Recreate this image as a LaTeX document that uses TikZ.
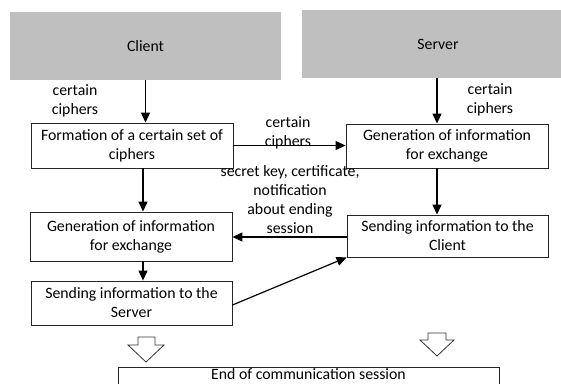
\documentclass[tikz,border=0pt]{standalone}
\usepackage{fontspec}
\setmainfont{Carlito}
\usetikzlibrary{arrows.meta}
\begin{document}
\begin{tikzpicture}[x=1pt,y=-1pt,
  every node/.style={font=\fontsize{15.8pt}{19pt}\selectfont, text=black},
  graybox/.style={fill=black!25, draw=none, inner sep=0pt},
  procbox/.style={draw=black!85, line width=0.9pt, align=center, inner sep=0pt},
  lbl/.style={align=center, inner sep=0pt},
  arr/.style={draw=black, line width=1.2pt, -{Triangle[length=10pt,width=9pt]}},
  hollow/.style={draw=black!80, line width=0.8pt, fill=white}
]
\useasboundingbox (0,0) rectangle (561,383);

% header boxes
\node[graybox, minimum width=271pt, minimum height=68pt] (client) at (145.5,46) {Client};
\node[graybox, minimum width=259pt, minimum height=68pt] (server) at (431.5,44) {\hspace*{13pt}Server};

% process boxes
\node[procbox, minimum width=202pt, minimum height=45pt] (form) at (132,145.5) {Formation of a certain set of\\ciphers};
\node[procbox, minimum width=202pt, minimum height=44pt] (sgen) at (447,146) {Generation of information\\for exchange};
\node[procbox, minimum width=202pt, minimum height=49pt] (lgen) at (131,236.5) {Generation of information\\for exchange};
\node[procbox, minimum width=201pt, minimum height=42pt] (ssend) at (447.5,236) {Sending information to the\\Client};
\node[procbox, minimum width=201pt, minimum height=44pt] (lsend) at (131.5,303) {Sending information to the\\Server};

% end box (cut by the lower edge)
\node[lbl] (endbox) at (308.5,374.5) {End of communication session};
\draw[draw=black!85, line width=0.9pt] (118,384) -- (118,367) -- (499,367) -- (499,384);

% labels
\node[lbl] (l1) at (75,101) {certain\\ciphers};
\node[lbl] (l2) at (490,100) {certain\\ciphers};
\node[lbl] (l3) at (288,132.5) {certain\\ciphers};
\node[lbl] (l4) at (290,200) {secret key, certificate,\\notification\\about ending\\session};

% connectors
\draw[arr] (client.south) -- (client.south |- form.north);
\draw[arr] ([xshift=5.5pt]server.south) -- ([xshift=-10pt]sgen.north);
\draw[arr] (form.east) -- (form.east -| sgen.west);
\draw[arr] ([xshift=11pt]form.south) -- ([xshift=12pt]lgen.north);
\draw[arr] ([xshift=-10pt]sgen.south) -- ([xshift=-10.5pt]ssend.north);
\draw[arr] ([yshift=-1pt]ssend.west) -- ([yshift=-1pt]ssend.west -| lgen.east);
\draw[arr] ([xshift=12pt]lgen.south) -- ([xshift=11.5pt]lsend.north);
\draw[arr] ([yshift=-2pt]lsend.east) -- (ssend.south west);

% hollow block arrows
\draw[hollow] (138,337) -- (155,337) -- (155,345) -- (164,345) -- (146,362) -- (128,345) -- (138,345) -- cycle;
\draw[hollow] (428,333) -- (446,333) -- (446,340) -- (454,340) -- (437,356) -- (420,340) -- (428,340) -- cycle;
\end{tikzpicture}
\end{document}
